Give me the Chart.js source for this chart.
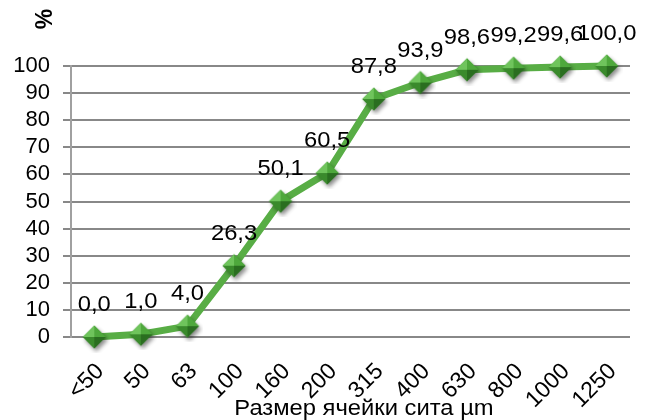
<!DOCTYPE html>
<html>
<head>
<meta charset="utf-8">
<script src="https://cdn.jsdelivr.net/npm/chart.js@4.4.1/dist/chart.umd.min.js"></script>
<style>
  html, body { margin: 0; padding: 0; background: #fff; }
  #wrap { width: 649px; height: 420px; }
</style>
</head>
<body>
<div id="wrap"><canvas id="sieveChart" width="649" height="420"></canvas></div>
<script>
// ── Data ──────────────────────────────────────────────────────────────────────
const sieveSizes    = ['<50','50','63','100','160','200','315','400','630','800','1000','1250'];
const cumulativePct = [0.0, 1.0, 4.0, 26.3, 50.1, 60.5, 87.8, 93.9, 98.6, 99.2, 99.6, 100.0];
const yAxisTitle = '%';
const xAxisTitle = 'Размер ячейки сита µm';

const FONT = "'Liberation Sans', Arial, sans-serif";

// ── Marker: bevelled green diamond ────────────────────────────────────────────
function makeDiamond() {
  const c = document.createElement('canvas');
  c.width = 32; c.height = 32;
  const g = c.getContext('2d');
  const cx = 16, cy = 16, r = 11.5;
  // soft shadow
  g.save();
  g.shadowColor = 'rgba(0,0,0,0.45)';
  g.shadowBlur = 4;
  g.shadowOffsetX = 2;
  g.shadowOffsetY = 3;
  g.beginPath();
  g.moveTo(cx, cy - r); g.lineTo(cx + r, cy); g.lineTo(cx, cy + r); g.lineTo(cx - r, cy);
  g.closePath();
  g.fillStyle = '#3c8c2e';
  g.fill();
  g.restore();
  const facet = (pts, col) => {
    g.beginPath();
    g.moveTo(cx, cy);
    pts.forEach(p => g.lineTo(p[0], p[1]));
    g.closePath();
    g.fillStyle = col;
    g.fill();
  };
  facet([[cx, cy - r], [cx - r, cy]], '#6fc45c');
  facet([[cx, cy - r], [cx + r, cy]], '#4ea83c');
  facet([[cx - r, cy], [cx, cy + r]], '#3a8a2c');
  facet([[cx + r, cy], [cx, cy + r]], '#2a6e20');
  return c;
}

// ── Plugins ───────────────────────────────────────────────────────────────────
// text in the original is slightly wider than Arial, so stretch it a little
const STRETCH = 1.08;

const valueLabels = {
  id: 'valueLabels',
  afterDatasetsDraw(chart) {
    const { ctx } = chart;
    const meta = chart.getDatasetMeta(0);
    ctx.font = `22px ${FONT}`;
    ctx.fillStyle = '#000';
    ctx.textAlign = 'center';
    ctx.textBaseline = 'middle';
    meta.data.forEach((pt, i) => {
      const txt = cumulativePct[i].toFixed(1).replace('.', ',');
      ctx.save();
      ctx.translate(pt.x, pt.y - 32);
      ctx.scale(STRETCH, 1);
      ctx.fillText(txt, 0, 0);
      ctx.restore();
    });
  }
};

const axisTitles = {
  id: 'axisTitles',
  afterDraw(chart) {
    const { ctx } = chart;
    ctx.save();
    ctx.fillStyle = '#000';
    ctx.textAlign = 'center';
    ctx.textBaseline = 'middle';
    ctx.font = `22px ${FONT}`;
    ctx.save();
    ctx.translate(364, 409);
    ctx.scale(STRETCH, 1);
    ctx.fillText(xAxisTitle, 0, 0);
    ctx.restore();
    ctx.translate(46, 19);
    ctx.rotate(-Math.PI / 2);
    ctx.font = `bold 23px ${FONT}`;
    ctx.fillText(yAxisTitle, 0, 0);
    ctx.restore();
  }
};

// ── Chart ─────────────────────────────────────────────────────────────────────
new Chart(document.getElementById('sieveChart'), {
  type: 'line',
  data: {
    labels: sieveSizes,
    datasets: [{
      data: cumulativePct,
      borderColor: '#58ad45',
      borderWidth: 7,
      tension: 0,
      pointStyle: makeDiamond(),
      pointRadius: 12,
      clip: false,
    }],
  },
  options: {
    responsive: false,
    animation: false,
    layout: { padding: { top: 66, right: 18, left: 0, bottom: 0 } },
    plugins: { legend: { display: false }, tooltip: { enabled: false } },
    scales: {
      x: {
        offset: true,
        grid: { display: false, drawTicks: false },
        border: { display: false },
        ticks: {
          font: { family: FONT, size: 23 },
          color: '#000',
          minRotation: 45, maxRotation: 45,
          autoSkip: false,
          labelOffset: 6,
          padding: 21,
        },
        afterFit: s => { s.height = 83; },
      },
      y: {
        min: 0, max: 100,
        grid: { color: '#888', lineWidth: 2, tickLength: 8 },
        border: { color: '#a0a0a0', width: 2 },
        ticks: {
          count: 11,
          autoSkip: false,
          font: { family: FONT, size: 22 },
          color: '#000',
          padding: 13,
        },
        afterFit: s => { s.width = 71; },
      },
    },
  },
  plugins: [valueLabels, axisTitles],
});
</script>
</body>
</html>
